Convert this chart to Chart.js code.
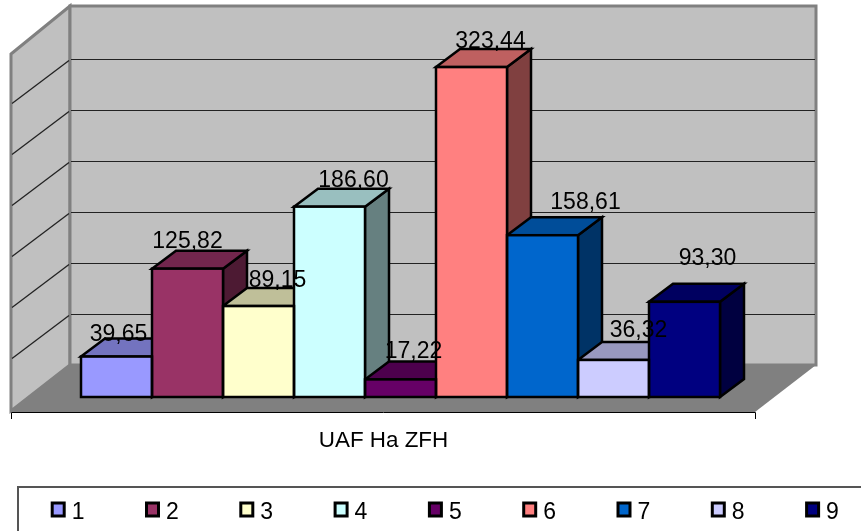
<!DOCTYPE html>
<html>
<head>
<meta charset="utf-8">
<style>
  html, body { margin: 0; padding: 0; background: #fff; overflow: hidden; }
  canvas { display: block; }
</style>
</head>
<body>
<canvas id="grafico" width="861" height="531"></canvas>
<script src="https://cdn.jsdelivr.net/npm/chart.js@4/dist/chart.umd.min.js"></script>
<script>
const categorias = ["1", "2", "3", "4", "5", "6", "7", "8", "9"];
const valores = [39.65, 125.82, 89.15, 186.60, 17.22, 323.44, 158.61, 36.32, 93.30];
const colores = ["#9999FF", "#993366", "#FFFFCC", "#CCFFFF", "#660066", "#FF8080", "#0066CC", "#CCCCFF", "#000080"];
const tituloEje = "UAF Ha ZFH";

// desplazamiento de cada etiqueta respecto al centro/tope de su barra
const offsetsEtiquetas = [[2, -16], [0, -21], [19, -19], [24, -20], [13, -21], [19, -19], [43, -26], [25, -23], [23, -37]];

const FUENTE = "23px 'Liberation Sans', Arial, sans-serif";
const PROF_X = 24, PROF_Y = 18;      // profundidad de las barras
const FONDO_Y = 32;                  // pared de fondo respecto al frente de las barras

function oscurecer(hex, f) {
    const n = parseInt(hex.slice(1), 16);
    const c = [n >> 16, (n >> 8) & 255, n & 255].map(v => Math.round(v * f));
    return `rgb(${c[0]},${c[1]},${c[2]})`;
}

function poligono(ctx, puntos, relleno, borde, ancho) {
    ctx.beginPath();
    puntos.forEach((p, i) => i ? ctx.lineTo(p[0], p[1]) : ctx.moveTo(p[0], p[1]));
    ctx.closePath();
    if (relleno) { ctx.fillStyle = relleno; ctx.fill(); }
    if (borde) { ctx.strokeStyle = borde; ctx.lineWidth = ancho; ctx.lineJoin = "miter"; ctx.stroke(); }
}

const paredes = {
    id: "paredes",
    beforeDatasetsDraw(chart) {
        const { ctx, chartArea: a, scales: { y } } = chart;
        const izq = a.left - 11, der = a.left + 735;
        const arriba = a.top - 34, abajo = y.getPixelForValue(0) - FONDO_Y;
        const frenteIzq = a.left - 70, frenteDer = a.left + 674, frenteY = abajo + 47;

        ctx.save();
        // piso
        poligono(ctx, [[izq, abajo], [der, abajo], [frenteDer, frenteY], [frenteIzq, frenteY]], "#808080");
        // paredes
        poligono(ctx, [[frenteIzq, arriba + 48], [izq, arriba], [izq, abajo], [frenteIzq, frenteY - 1]], "#C0C0C0", "#808080", 3);
        poligono(ctx, [[izq, arriba], [der, arriba], [der, abajo], [izq, abajo]], "#C0C0C0", "#808080", 3);

        // lineas de division, en las dos paredes
        ctx.strokeStyle = "#222222";
        ctx.lineWidth = 1;
        y.ticks.forEach(t => {
            if (t.value === 0 || t.value === y.max) return;
            const py = Math.round(y.getPixelForValue(t.value) - FONDO_Y) + 0.5;
            ctx.beginPath();
            ctx.lineWidth = 1.3;
            ctx.moveTo(frenteIzq + 1, py + 44);
            ctx.lineTo(izq - 1, py + 1);
            ctx.stroke();
            ctx.beginPath();
            ctx.lineWidth = 1;
            ctx.moveTo(izq + 1, py);
            ctx.lineTo(der - 1, py);
            ctx.stroke();
        });

        // borde frontal del piso con sus marcas
        ctx.strokeStyle = "#000";
        ctx.lineWidth = 1;
        ctx.beginPath();
        ctx.moveTo(frenteIzq + 0.5, frenteY + 7);
        ctx.lineTo(frenteIzq + 0.5, frenteY + 0.5);
        ctx.lineTo(frenteDer + 0.5, frenteY + 0.5);
        ctx.lineTo(frenteDer + 0.5, frenteY + 7);
        ctx.stroke();

        // caras lateral y superior de cada barra, de izquierda a derecha
        chart.getDatasetMeta(0).data.forEach((barra, i) => {
            const x0 = barra.x - barra.width / 2, x1 = barra.x + barra.width / 2;
            const yTop = barra.y, yBase = barra.base;
            poligono(ctx, [[x1, yTop], [x1 + PROF_X, yTop - PROF_Y], [x1 + PROF_X, yBase - PROF_Y], [x1, yBase]],
                oscurecer(colores[i], 0.5), "#000", 2.5);
            poligono(ctx, [[x0, yTop], [x0 + PROF_X, yTop - PROF_Y], [x1 + PROF_X, yTop - PROF_Y], [x1, yTop]],
                oscurecer(colores[i], 0.75), "#000", 2.5);
        });
        ctx.restore();
    },
    afterDatasetsDraw(chart) {
        // contorno del frente centrado sobre el borde de cada barra
        const { ctx } = chart;
        ctx.save();
        ctx.strokeStyle = "#000";
        ctx.lineWidth = 2.5;
        chart.getDatasetMeta(0).data.forEach(barra => {
            ctx.strokeRect(barra.x - barra.width / 2, barra.y, barra.width, barra.base - barra.y);
        });
        ctx.restore();
    }
};

const textos = {
    id: "textos",
    afterDatasetsDraw(chart) {
        const { ctx } = chart;
        ctx.save();
        ctx.font = FUENTE;
        ctx.fillStyle = "#000";
        ctx.textBaseline = "alphabetic";

        // etiquetas de datos con coma decimal
        ctx.textAlign = "center";
        chart.getDatasetMeta(0).data.forEach((barra, i) => {
            const [dx, dy] = offsetsEtiquetas[i];
            ctx.fillText(valores[i].toFixed(2).replace(".", ","), barra.x + dx, barra.y + dy);
        });

        // titulo del eje
        ctx.font = "22.4px 'Liberation Sans', Arial, sans-serif";
        ctx.fillText(tituloEje, 383.5, 447);

        // leyenda
        ctx.strokeStyle = "#555";
        ctx.lineWidth = 2;
        ctx.beginPath();
        ctx.moveTo(18, 531);
        ctx.lineTo(18, 487);
        ctx.lineTo(861, 487);
        ctx.stroke();

        ctx.font = FUENTE;
        ctx.textAlign = "left";
        categorias.forEach((c, i) => {
            const x = 52.2 + i * 94.3;
            ctx.fillStyle = colores[i];
            ctx.strokeStyle = "#000";
            ctx.lineWidth = 3;
            ctx.fillRect(x, 503, 12, 13);
            ctx.strokeRect(x, 503, 12, 13);
            ctx.fillStyle = "#000";
            ctx.fillText(c, x + 19.5, 519);
        });
        ctx.restore();
    }
};

new Chart(document.getElementById("grafico"), {
    type: "bar",
    data: {
        labels: categorias,
        datasets: [{
            data: valores,
            backgroundColor: colores,
            borderWidth: 0,
            barPercentage: 1,
            categoryPercentage: 1
        }]
    },
    options: {
        responsive: false,
        animation: false,
        layout: { padding: { left: 81, right: 141, top: 40, bottom: 134 } },
        plugins: {
            legend: { display: false },
            tooltip: { enabled: false }
        },
        scales: {
            x: { display: false },
            y: { display: false, min: 0, max: 350, ticks: { stepSize: 50 } }
        }
    },
    plugins: [paredes, textos]
});
</script>
</body>
</html>
